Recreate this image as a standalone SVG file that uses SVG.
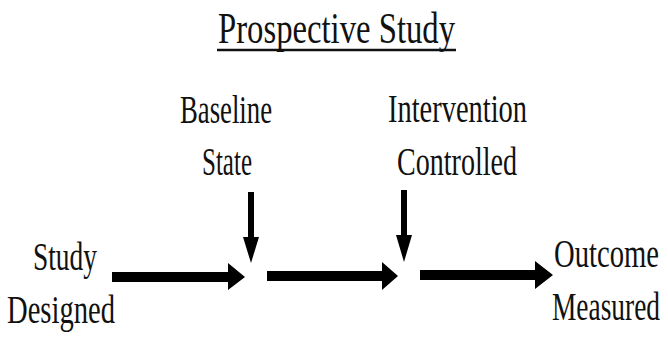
<svg xmlns="http://www.w3.org/2000/svg" width="668" height="339" viewBox="0 0 668 339">
<style>
text{font-family:"Liberation Serif","Times New Roman",serif;fill:#111;}
.lbl{font-size:40px;}
.ttl{font-size:44px;}
.arr{fill:#000;}
</style>
<rect width="668" height="339" fill="#fff"/>
<g id="title">
<text class="ttl" x="218" y="43" textLength="237" lengthAdjust="spacingAndGlyphs">Prospective Study</text>
<line x1="217" y1="50" x2="456" y2="50" stroke="#111" stroke-width="2.5"/>
</g>
<g id="baseline-state">
<text class="lbl" x="180" y="123" textLength="92" lengthAdjust="spacingAndGlyphs">Baseline</text>
<text class="lbl" x="202" y="175" textLength="50" lengthAdjust="spacingAndGlyphs">State</text>
</g>
<g id="intervention-controlled">
<text class="lbl" x="388" y="122" textLength="139" lengthAdjust="spacingAndGlyphs">Intervention</text>
<text class="lbl" x="397" y="175" textLength="120" lengthAdjust="spacingAndGlyphs">Controlled</text>
</g>
<g id="study-designed">
<text class="lbl" x="33" y="270" textLength="64" lengthAdjust="spacingAndGlyphs">Study</text>
<text class="lbl" x="7" y="323" textLength="108" lengthAdjust="spacingAndGlyphs">Designed</text>
</g>
<g id="outcome-measured">
<text class="lbl" transform="translate(554,267) scale(0.716,1)">Outcome</text>
<text class="lbl" transform="translate(552,320) scale(0.685,1)">Measured</text>
</g>
<g id="connectors">
<polygon class="arr" points="112,272 228,272 228,263 245,277 228,290 228,282 112,282"/>
<polygon class="arr" points="267,271 382,271 382,262 398,276 382,290 382,281 267,281"/>
<polygon class="arr" points="420,270 535,270 535,261 553,275 535,289 535,280 420,280"/>
<polygon class="arr" points="248,192 254,192 254,237 259,237 251,263 243,237 248,237"/>
<polygon class="arr" points="401,190 407,190 407,235 412,235 404,262 396,235 401,235"/>
</g>
</svg>
